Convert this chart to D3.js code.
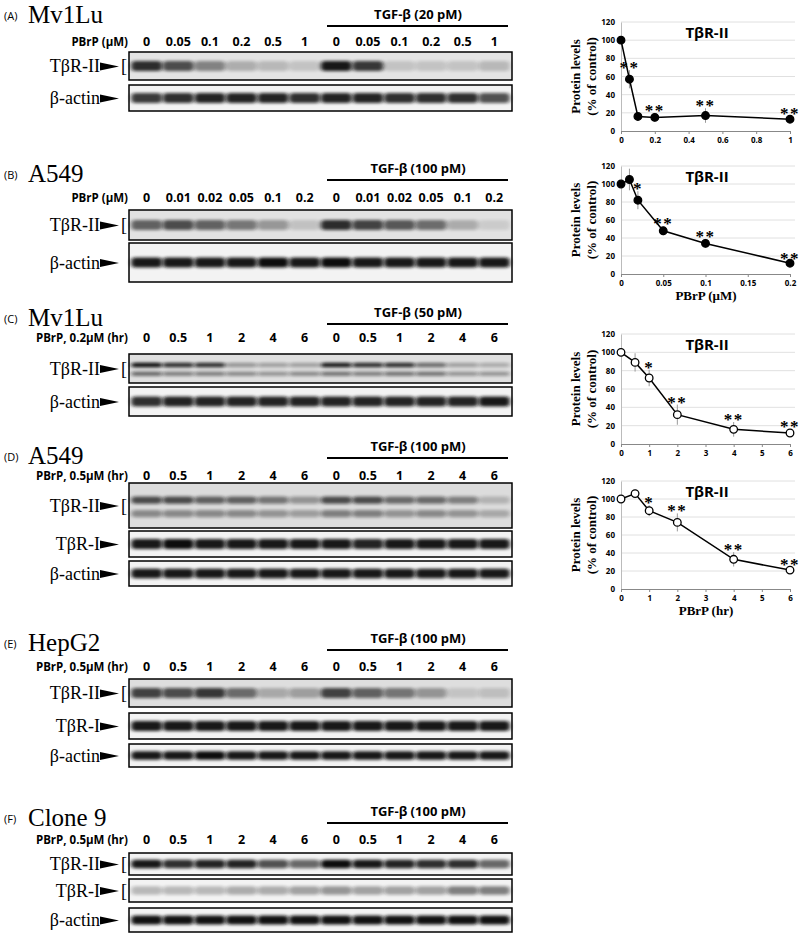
<!DOCTYPE html>
<html>
<head>
<meta charset="utf-8">
<script src="https://cdn.jsdelivr.net/npm/d3@7"></script>
<style>
body { margin: 0; background: #fff; }
svg { display: block; }
.serif { font-family: "Liberation Serif", "DejaVu Serif", serif; }
.sans { font-family: "Open Sans", "Noto Sans", sans-serif; }
</style>
</head>
<body>
<svg id="fig" width="800" height="936"></svg>
<script>
(function() {
'use strict';

// lane labels
var doseA = ['0', '0.05', '0.1', '0.2', '0.5', '1'];
var doseB = ['0', '0.01', '0.02', '0.05', '0.1', '0.2'];
var hours = ['0', '0.5', '1', '2', '4', '6'];

// band intensities (0..1) per lane, 12 lanes each
var aR2 = [0.85, 0.7, 0.45, 0.25, 0.2, 0.15, 0.95, 0.8, 0.15, 0.15, 0.15, 0.2];
var aAct = [0.8, 0.85, 0.9, 0.9, 0.9, 0.85, 0.9, 0.9, 0.85, 0.85, 0.85, 0.7];
var bR2 = [0.6, 0.7, 0.6, 0.5, 0.35, 0.15, 0.85, 0.75, 0.65, 0.55, 0.25, 0.1];
var bAct = [0.95, 0.95, 0.95, 0.95, 1, 0.95, 1, 0.95, 0.95, 0.95, 0.95, 0.95];
var cR2 = [1, 0.85, 0.85, 0.35, 0.3, 0.3, 0.95, 0.85, 0.85, 0.55, 0.3, 0.25];
var cR2low = [0.55, 0.45, 0.45, 0.4, 0.35, 0.4, 0.5, 0.45, 0.5, 0.5, 0.35, 0.35];
var cAct = [0.85, 0.9, 0.9, 0.9, 0.9, 0.9, 0.9, 0.9, 0.9, 0.9, 0.9, 0.95];
var dR2 = [0.7, 0.7, 0.6, 0.6, 0.5, 0.35, 0.7, 0.7, 0.55, 0.55, 0.45, 0.2];
var dR2low = [0.4, 0.4, 0.4, 0.4, 0.35, 0.3, 0.45, 0.45, 0.35, 0.4, 0.35, 0.25];
var dR1 = [0.95, 1, 0.95, 0.95, 0.95, 0.95, 0.95, 0.9, 0.95, 0.95, 0.95, 0.95];
var dAct = [0.95, 0.95, 0.95, 0.95, 0.95, 0.95, 0.95, 0.95, 0.95, 0.95, 0.95, 0.95];
var eR2 = [0.75, 0.7, 0.8, 0.55, 0.25, 0.3, 0.75, 0.6, 0.5, 0.35, 0.12, 0.15];
var eR1 = [0.95, 0.95, 0.95, 0.95, 0.95, 0.95, 0.95, 0.95, 0.95, 0.95, 0.95, 0.95];
var eAct = [0.95, 0.95, 1, 0.95, 0.95, 0.95, 0.95, 0.95, 0.95, 0.95, 0.95, 0.95];
var fR2 = [0.95, 0.85, 0.9, 0.9, 0.7, 0.6, 1, 0.95, 0.9, 0.85, 0.85, 0.6];
var fR1 = [0.25, 0.25, 0.25, 0.3, 0.3, 0.35, 0.4, 0.35, 0.35, 0.35, 0.5, 0.5];
var fAct = [0.98, 0.98, 0.98, 0.98, 0.98, 0.98, 0.98, 0.98, 0.98, 0.98, 0.98, 0.98];

// quantification charts
var qxA = [0, 0.05, 0.1, 0.2, 0.5, 1];
var qyA = [100, 57, 16, 15, 17, 13];
var qeA = [0, 10, 4, 5, 8, 4];
var qsA = ['', '**', '', '**', '**', '**'];
var qxB = [0, 0.01, 0.02, 0.05, 0.1, 0.2];
var qyB = [100, 105, 82, 48, 34, 12];
var qeB = [0, 12, 10, 5, 5, 3];
var qsB = ['', '', '*', '**', '**', '**'];
var qxC = [0, 0.5, 1, 2, 4, 6];
var qyC = [100, 89, 72, 32, 16, 12];
var qeC = [0, 10, 9, 11, 8, 4];
var qsC = ['', '', '*', '**', '**', '**'];
var qxD = [0, 0.5, 1, 2, 4, 6];
var qyD = [100, 106, 87, 74, 33, 21];
var qeD = [0, 5, 6, 10, 8, 3];
var qsD = ['', '', '*', '**', '**', '**'];

var svg = d3.select('#fig');
var defs = svg.append('defs');
defs.append('filter').attr('id', 'blur').attr('x', '-30%').attr('y', '-100%')
    .attr('width', '160%').attr('height', '300%')
    .append('feGaussianBlur').attr('stdDeviation', '2 1.6');

var lane = d3.scaleBand().domain(d3.range(12)).range([129, 512]).paddingInner(0.08).paddingOuter(0.1);

var panels = [
    {tag: '(A)', name: 'Mv1Lu', y: 15, tgf: 'TGF-β (20 pM)', tgfY: 26, lanesY: 46, unit: 'PBrP (μM)', lanes: doseA,
        blots: [{label: 'TβR-II', br: true, y0: 52, y1: 80, bands: [aR2], bg: '#e4e4e4'},
                {label: 'β-actin', y0: 85, y1: 111, bands: [aAct]}]},
    {tag: '(B)', name: 'A549', y: 174, tgf: 'TGF-β (100 pM)', tgfY: 180, lanesY: 202, unit: 'PBrP (μM)', lanes: doseB,
        blots: [{label: 'TβR-II', br: true, y0: 210, y1: 240, bands: [bR2], bg: '#e2e2e2'},
                {label: 'β-actin', y0: 243, y1: 282, bands: [bAct]}]},
    {tag: '(C)', name: 'Mv1Lu', y: 318, tgf: 'TGF-β (50 pM)', tgfY: 324, lanesY: 342, unit: 'PBrP, 0.2μM (hr)', lanes: hours,
        blots: [{label: 'TβR-II', br: true, y0: 354, y1: 383, bands: [cR2, cR2low], bg: '#e0e0e0'},
                {label: 'β-actin', y0: 387, y1: 416, bands: [cAct]}]},
    {tag: '(D)', name: 'A549', y: 456, tgf: 'TGF-β (100 pM)', tgfY: 458, lanesY: 480, unit: 'PBrP, 0.5μM (hr)', lanes: hours,
        blots: [{label: 'TβR-II', br: true, y0: 483, y1: 528, bands: [dR2, dR2low], bg: '#dcdcdc'},
                {label: 'TβR-I', y0: 531, y1: 557, bands: [dR1]},
                {label: 'β-actin', y0: 561, y1: 586, bands: [dAct]}]},
    {tag: '(E)', name: 'HepG2', y: 643, tgf: 'TGF-β (100 pM)', tgfY: 650, lanesY: 671, unit: 'PBrP, 0.5μM (hr)', lanes: hours,
        blots: [{label: 'TβR-II', br: true, y0: 679, y1: 707, bands: [eR2], bg: '#dedede'},
                {label: 'TβR-I', y0: 713, y1: 739, bands: [eR1]},
                {label: 'β-actin', y0: 744, y1: 767, bands: [eAct]}]},
    {tag: '(F)', name: 'Clone 9', y: 818, tgf: 'TGF-β (100 pM)', tgfY: 823, lanesY: 844, unit: 'PBrP, 0.5μM (hr)', lanes: hours,
        blots: [{label: 'TβR-II', br: true, y0: 853, y1: 875, bands: [fR2]},
                {label: 'TβR-I', br: true, y0: 879, y1: 902, bands: [fR1]},
                {label: 'β-actin', y0: 908, y1: 932, bands: [fAct]}]}
];

panels.forEach(function(p) {
    var g = svg.append('g');
    g.append('text').attr('class', 'sans').attr('x', 4).attr('y', p.y + 5)
        .attr('font-size', 11).text(p.tag);
    g.append('text').attr('class', 'serif').attr('x', 28).attr('y', p.y + 8)
        .attr('font-size', 25).text(p.name);
    g.append('line').attr('x1', 327).attr('x2', 508).attr('y1', p.tgfY).attr('y2', p.tgfY)
        .attr('stroke', '#000').attr('stroke-width', 2);
    g.append('text').attr('class', 'sans').attr('x', 418).attr('y', p.tgfY - 7)
        .attr('text-anchor', 'middle').attr('font-size', 13).attr('font-weight', 'bold').text(p.tgf);
    g.append('text').attr('class', 'sans').attr('x', 128).attr('y', p.lanesY)
        .attr('text-anchor', 'end').attr('font-size', 11.5).attr('font-weight', 'bold').text(p.unit);
    g.selectAll('text.lane').data(p.lanes.concat(p.lanes)).enter().append('text')
        .attr('class', 'sans lane')
        .attr('x', function(d, i) { return lane(i) + lane.bandwidth() / 2; })
        .attr('y', p.lanesY).attr('text-anchor', 'middle')
        .attr('font-size', 12.5).attr('font-weight', 'bold').text(function(d) { return d; });

    p.blots.forEach(function(b) {
        var h = b.y1 - b.y0;
        var bg = g.append('g');
        bg.append('rect').attr('x', 129).attr('y', b.y0).attr('width', 383).attr('height', h)
            .attr('fill', b.bg || '#f3f3f3');
        var nb = b.bands.length;
        b.bands.forEach(function(arr, k) {
            var cy = nb === 1 ? b.y0 + h / 2 : b.y0 + h * (k === 0 ? 0.38 : 0.68);
            var bh = nb === 1 ? Math.min(h * 0.38, 10) : h * 0.16;
            bg.selectAll(null).data(arr).enter().append('rect')
                .attr('x', function(d, i) { return lane(i) - 1; })
                .attr('y', cy - bh / 2)
                .attr('width', lane.bandwidth() + 2)
                .attr('height', bh)
                .attr('rx', 4)
                .attr('fill', '#111')
                .attr('opacity', function(d) { return d; })
                .attr('filter', 'url(#blur)');
        });
        bg.append('rect').attr('x', 129).attr('y', b.y0).attr('width', 383).attr('height', h)
            .attr('fill', 'none').attr('stroke', '#000').attr('stroke-width', 1.5);
        var my = b.y0 + h / 2;
        g.append('text').attr('class', 'serif').attr('x', 100).attr('y', my + 6)
            .attr('text-anchor', 'end').attr('font-size', 18).text(b.label);
        g.append('path').attr('d', 'M100,' + (my - 3.5) + 'L119,' + (my + 0.5) + 'L100,' + (my + 4.5) + 'Z')
            .attr('fill', '#000');
        if (b.br) {
            g.append('text').attr('class', 'serif').attr('x', 121).attr('y', my + 6)
                .attr('font-size', 18).text('[');
        }
    });
});

// quantification line charts
var charts = [
    {xs: qxA, ys: qyA, es: qeA, st: qsA, top: 22, bot: 131, xmax: 1, ticks: [0, 0.2, 0.4, 0.6, 0.8, 1], open: false, xlab: null},
    {xs: qxB, ys: qyB, es: qeB, st: qsB, top: 166, bot: 274, xmax: 0.2, ticks: [0, 0.05, 0.1, 0.15, 0.2], open: false, xlab: 'PBrP (μM)'},
    {xs: qxC, ys: qyC, es: qeC, st: qsC, top: 334, bot: 444, xmax: 6, ticks: [0, 1, 2, 3, 4, 5, 6], open: true, xlab: null},
    {xs: qxD, ys: qyD, es: qeD, st: qsD, top: 481, bot: 589, xmax: 6, ticks: [0, 1, 2, 3, 4, 5, 6], open: true, xlab: 'PBrP (hr)'}
];

charts.forEach(function(c) {
    var x = d3.scaleLinear().domain([0, c.xmax]).range([621, 790]);
    var y = d3.scaleLinear().domain([0, 120]).range([c.bot, c.top]);
    var g = svg.append('g');
    g.selectAll('line.grid').data(d3.range(20, 121, 20)).enter().append('line')
        .attr('x1', 621).attr('x2', 795)
        .attr('y1', function(d) { return y(d); }).attr('y2', function(d) { return y(d); })
        .attr('stroke', '#d8d8d8').attr('stroke-width', 0.8);
    var ya = g.append('g').attr('transform', 'translate(621,0)')
        .call(d3.axisLeft(y).tickValues(d3.range(0, 121, 20)).tickSize(0).tickPadding(6));
    ya.select('.domain').attr('stroke', '#bbb');
    ya.selectAll('text').attr('class', 'sans').attr('font-size', 8).attr('font-weight', 'bold');
    var xa = g.append('g').attr('transform', 'translate(0,' + c.bot + ')')
        .call(d3.axisBottom(x).tickValues(c.ticks).tickSize(3).tickFormat(d3.format('~g')));
    xa.select('.domain').attr('stroke', '#888');
    xa.selectAll('line').attr('stroke', '#888');
    xa.selectAll('text').attr('class', 'sans').attr('font-size', 8).attr('font-weight', 'bold');

    var mid = (c.top + c.bot) / 2;
    g.append('text').attr('class', 'serif').attr('transform', 'translate(580,' + mid + ') rotate(-90)')
        .attr('text-anchor', 'middle').attr('font-size', 13).attr('font-weight', 'bold').text('Protein levels');
    g.append('text').attr('class', 'serif').attr('transform', 'translate(596,' + mid + ') rotate(-90)')
        .attr('text-anchor', 'middle').attr('font-size', 13).attr('font-weight', 'bold').text('(% of control)');
    g.append('text').attr('class', 'sans').attr('x', 707).attr('y', c.top + 16)
        .attr('text-anchor', 'middle').attr('font-size', 15).attr('font-weight', 'bold').text('TβR-II');
    if (c.xlab) {
        g.append('text').attr('class', 'serif').attr('x', 706).attr('y', c.bot + 26)
            .attr('text-anchor', 'middle').attr('font-size', 13).attr('font-weight', 'bold').text(c.xlab);
    }

    var pts = c.xs.map(function(v, i) { return {x: v, y: c.ys[i], e: c.es[i], s: c.st[i]}; });
    g.selectAll('line.err').data(pts).enter().append('line')
        .attr('x1', function(d) { return x(d.x); }).attr('x2', function(d) { return x(d.x); })
        .attr('y1', function(d) { return y(d.y - d.e); }).attr('y2', function(d) { return y(d.y + d.e); })
        .attr('stroke', '#999').attr('stroke-width', 1);
    g.append('path').datum(pts)
        .attr('d', d3.line().x(function(d) { return x(d.x); }).y(function(d) { return y(d.y); }))
        .attr('fill', 'none').attr('stroke', '#000').attr('stroke-width', 1.5);
    g.selectAll('circle').data(pts).enter().append('circle')
        .attr('cx', function(d) { return x(d.x); }).attr('cy', function(d) { return y(d.y); })
        .attr('r', 3.8).attr('fill', c.open ? '#fff' : '#000').attr('stroke', '#000').attr('stroke-width', 1.3);
    g.selectAll('text.star').data(pts).enter().append('text')
        .attr('class', 'serif star')
        .attr('x', function(d) { return x(d.x); })
        .attr('y', function(d) { return y(d.y + d.e) + 3; })
        .attr('text-anchor', 'middle').attr('font-size', 17).attr('font-weight', 'bold')
        .attr('letter-spacing', 1.5)
        .text(function(d) { return d.s; });
});

})();
</script>
</body>
</html>
